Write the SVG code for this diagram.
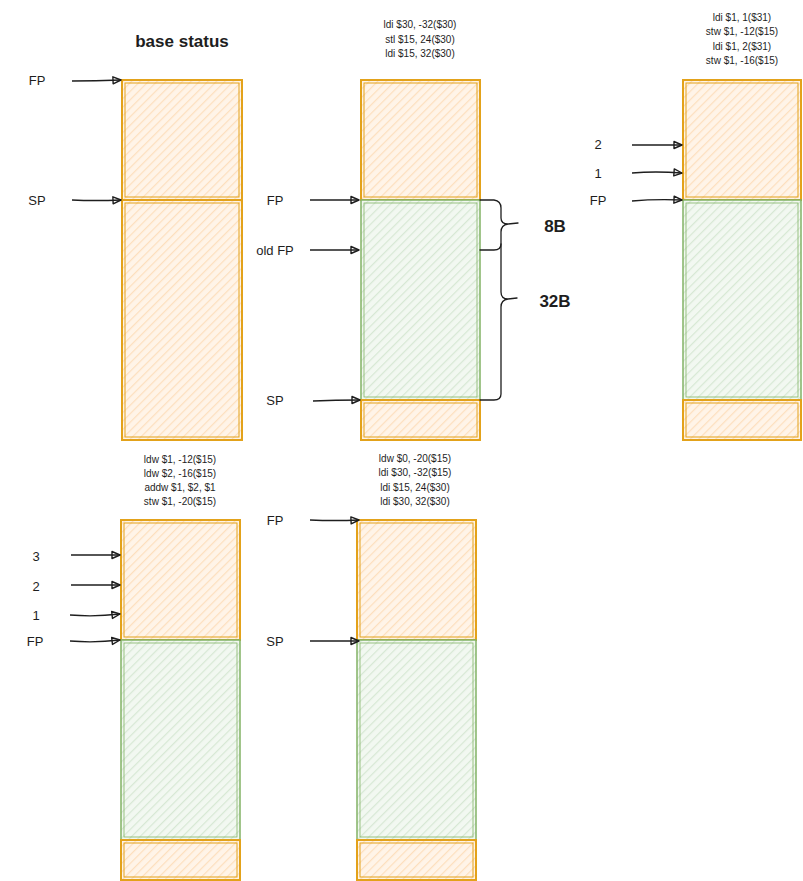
<svg xmlns="http://www.w3.org/2000/svg" width="803" height="881" viewBox="0 0 803 881">
<defs>
<pattern id="hO" patternUnits="userSpaceOnUse" width="6" height="6" patternTransform="rotate(45)">
<rect width="6" height="6" fill="#fff4e8"/>
<line x1="0" y1="0" x2="0" y2="6" stroke="#fddfbd" stroke-width="2.4"/>
</pattern>
<pattern id="hG" patternUnits="userSpaceOnUse" width="6" height="6" patternTransform="rotate(45)">
<rect width="6" height="6" fill="#f2f8f1"/>
<line x1="0" y1="0" x2="0" y2="6" stroke="#d7e8d4" stroke-width="2.4"/>
</pattern>
<marker id="ah" viewBox="0 0 10 10" refX="9" refY="5" markerWidth="10" markerHeight="10" orient="auto" markerUnits="userSpaceOnUse">
<path d="M1,1.5 L9,5 L1,8.5 Z" fill="none" stroke="#1e1e1e" stroke-width="1.4" stroke-linejoin="round"/>
</marker>
</defs>
<style>
.o{fill:url(#hO);stroke:#e3a21a;stroke-width:2}
.oi{fill:none;stroke:#e3a21a;stroke-width:1}
.g{fill:url(#hG);stroke:#82b366;stroke-width:1.5}
.gi{fill:none;stroke:#82b366;stroke-width:0.8}
.lbl{font-family:"Liberation Sans",Arial,sans-serif;font-size:13px;fill:#1e1e1e;text-anchor:middle;dominant-baseline:central}
.code{font-family:"Liberation Sans",Arial,sans-serif;font-size:10px;fill:#1e1e1e;text-anchor:middle;dominant-baseline:central}
.big{font-family:"Liberation Sans",Arial,sans-serif;font-size:17px;font-weight:bold;fill:#1e1e1e;text-anchor:middle;dominant-baseline:central}
.ar{fill:none;stroke:#1e1e1e;stroke-width:1.3;marker-end:url(#ah)}
.br{fill:none;stroke:#1e1e1e;stroke-width:1.3;stroke-linecap:round;stroke-linejoin:round}
</style>
<rect width="803" height="881" fill="#ffffff"/>

<g id="panel1">
<text class="big" x="182" y="41">base status</text>
<g id="p1-top"><rect class="o" x="122" y="80" width="120" height="120"/><rect class="oi" x="125" y="83" width="114" height="114"/></g>
<g id="p1-bottom"><rect class="o" x="122" y="200" width="120" height="240"/><rect class="oi" x="125" y="203" width="114" height="234"/></g>
<g id="p1-fp"><text class="lbl" x="37" y="80">FP</text></g>
<g id="p1-sp"><text class="lbl" x="37" y="200">SP</text></g>
</g>

<g id="panel2">
<text class="code" x="420" y="24">ldi $30, -32($30)</text>
<text class="code" x="420" y="39">stl $15, 24($30)</text>
<text class="code" x="420" y="53">ldi $15, 32($30)</text>
<g id="p2-top"><rect class="o" x="361" y="80" width="119" height="120"/><rect class="oi" x="364" y="83" width="113" height="114"/></g>
<g id="p2-mid"><rect class="g" x="361" y="200" width="119" height="200"/><rect class="gi" x="364" y="203" width="113" height="194"/></g>
<g id="p2-bot"><rect class="o" x="361" y="400" width="119" height="40"/><rect class="oi" x="364" y="403" width="113" height="34"/></g>
<g id="p2-fp"><text class="lbl" x="275" y="200">FP</text></g>
<g id="p2-oldfp"><text class="lbl" x="275" y="250">old FP</text></g>
<g id="p2-sp"><text class="lbl" x="275" y="400">SP</text></g>
<g id="p2-8b"><text class="big" x="555" y="226">8B</text></g>
<g id="p2-32b"><text class="big" x="555" y="301">32B</text></g>
</g>

<g id="panel3">
<text class="code" x="742" y="17">ldi $1, 1($31)</text>
<text class="code" x="742" y="31">stw $1, -12($15)</text>
<text class="code" x="742" y="46">ldi $1, 2($31)</text>
<text class="code" x="742" y="60">stw $1, -16($15)</text>
<g id="p3-top"><rect class="o" x="683" y="80" width="118" height="120"/><rect class="oi" x="686" y="83" width="112" height="114"/></g>
<g id="p3-mid"><rect class="g" x="683" y="200" width="118" height="200"/><rect class="gi" x="686" y="203" width="112" height="194"/></g>
<g id="p3-bot"><rect class="o" x="683" y="400" width="118" height="40"/><rect class="oi" x="686" y="403" width="112" height="34"/></g>
<g id="p3-2"><text class="lbl" x="598" y="144">2</text></g>
<g id="p3-1"><text class="lbl" x="598" y="173">1</text></g>
<g id="p3-fp"><text class="lbl" x="598" y="200">FP</text></g>
</g>

<g id="panel4">
<text class="code" x="180" y="459">ldw $1, -12($15)</text>
<text class="code" x="180" y="473">ldw $2, -16($15)</text>
<text class="code" x="180" y="487">addw $1, $2, $1</text>
<text class="code" x="180" y="501">stw $1, -20($15)</text>
<g id="p4-top"><rect class="o" x="121" y="520" width="119" height="120"/><rect class="oi" x="124" y="523" width="113" height="114"/></g>
<g id="p4-mid"><rect class="g" x="121" y="640" width="119" height="200"/><rect class="gi" x="124" y="643" width="113" height="194"/></g>
<g id="p4-bot"><rect class="o" x="121" y="840" width="119" height="40"/><rect class="oi" x="124" y="843" width="113" height="34"/></g>
<g id="p4-3"><text class="lbl" x="36" y="556">3</text></g>
<g id="p4-2"><text class="lbl" x="36" y="586">2</text></g>
<g id="p4-1"><text class="lbl" x="36" y="615">1</text></g>
<g id="p4-fp"><text class="lbl" x="35" y="641">FP</text></g>
</g>

<g id="panel5">
<text class="code" x="415" y="458">ldw $0, -20($15)</text>
<text class="code" x="415" y="472">ldi $30, -32($15)</text>
<text class="code" x="415" y="487">ldi $15, 24($30)</text>
<text class="code" x="415" y="501">ldi $30, 32($30)</text>
<g id="p5-top"><rect class="o" x="357" y="520" width="119" height="120"/><rect class="oi" x="360" y="523" width="113" height="114"/></g>
<g id="p5-mid"><rect class="g" x="357" y="640" width="119" height="200"/><rect class="gi" x="360" y="643" width="113" height="194"/></g>
<g id="p5-bot"><rect class="o" x="357" y="840" width="119" height="40"/><rect class="oi" x="360" y="843" width="113" height="34"/></g>
<g id="p5-fp"><text class="lbl" x="275" y="520">FP</text></g>
<g id="p5-sp"><text class="lbl" x="275" y="641">SP</text></g>
</g>

<g id="connectors">
<path class="ar" d="M72,81 Q95,81 121,80"/>
<path class="ar" d="M72,200 Q95,201 121,200"/>
<path class="ar" d="M310,200 L359,200"/>
<path class="ar" d="M310,250 L359,250"/>
<path class="ar" d="M313,401 Q335,400 360,400"/>
<path class="ar" d="M632,145 Q655,145 682,145"/>
<path class="ar" d="M632,173 Q655,171 682,173"/>
<path class="ar" d="M632,201 Q655,199 682,200"/>
<path class="ar" d="M71,555 L120,555"/>
<path class="ar" d="M71,585 L120,585"/>
<path class="ar" d="M70,615 Q95,617 120,614"/>
<path class="ar" d="M70,641 Q95,643 120,640"/>
<path class="ar" d="M310,520 Q335,521 359,520"/>
<path class="ar" d="M310,641 L359,641"/>
<path class="br" d="M480,200 L494,200 Q501,201 501,208 L501,218 Q501,224 508,224 L518,223 M508,224 Q501,225 501,232 L501,244 Q501,250 494,250 L480,250"/>
<path class="br" d="M501,244 L501,292 Q501,299 508,299 L517,298 M508,299 Q501,300 501,307 L501,394 Q501,400 494,400 L480,400"/>
</g>
</svg>
